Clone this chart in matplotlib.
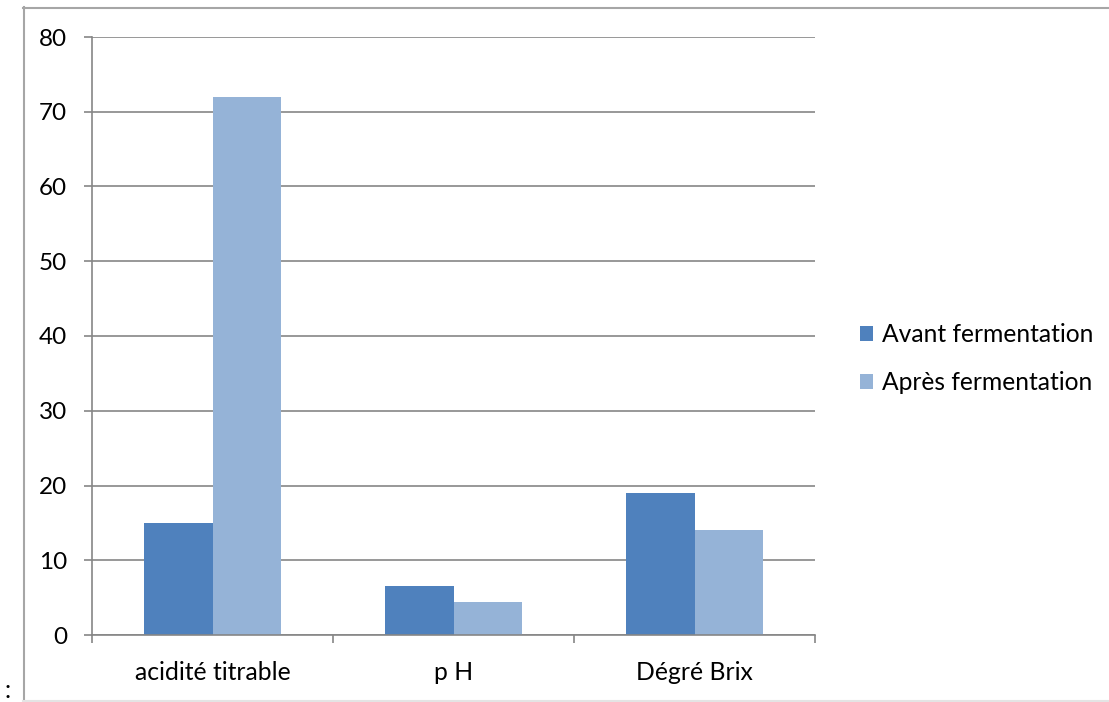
import numpy as np
import matplotlib
matplotlib.use('Agg')
import matplotlib.pyplot as plt
from matplotlib.lines import Line2D

categories = ['acidité titrable', 'p H', 'Dégré Brix']
avant = [15, 6.6, 19]
apres = [72, 4.4, 14]
series_names = ['Avant fermentation', 'Après fermentation']
colors = ['#4F81BD', '#95B3D7']

plt.rcParams['font.family'] = ['Lato', 'DejaVu Sans']

W, H = 1109, 702
fig = plt.figure(figsize=(W / 100, H / 100), dpi=100)
ax = fig.add_axes([92 / W, 1 - 635 / H, (815 - 92) / W, (635 - 37) / H])

# cadre du graphique (haut, gauche, bas)
fx = lambda p: p / W
fy = lambda p: 1 - p / H
fig.lines.append(Line2D([fx(23), 1], [fy(7.5), fy(7.5)], transform=fig.transFigure, color='#a6a6a6', lw=1.5))
fig.lines.append(Line2D([fx(23.5), fx(23.5)], [fy(7), fy(701)], transform=fig.transFigure, color='#a6a6a6', lw=1.5))
fig.lines.append(Line2D([fx(23), 1], [fy(700.5), fy(700.5)], transform=fig.transFigure, color='#e4e4e4', lw=1.5))
fig.text(fx(5), fy(691), ':', fontsize=18, ha='left', va='center')

x = np.arange(len(categories))
w = 1 / 3.5
ax.bar(x - w / 2, avant, w, color=colors[0], label=series_names[0], zorder=3)
ax.bar(x + w / 2, apres, w, color=colors[1], label=series_names[1], zorder=3)

ax.set_xlim(-0.5, len(categories) - 0.5)
ax.set_ylim(0, 80)
ax.set_yticks(range(0, 81, 10))
ax.set_xticks(x)
ax.set_xticklabels(categories)
ax.set_xticks(np.arange(-0.5, len(categories)), minor=True)
ax.tick_params(axis='x', which='major', length=0, pad=19, labelsize=17.8)
ax.tick_params(axis='x', which='minor', length=6, color='#868686', width=1.2)
ax.tick_params(axis='y', length=6, color='#868686', width=1.2, pad=12, labelsize=17.5)

ax.grid(axis='y', color='#868686', linewidth=1.2, zorder=0)
for s in ['top', 'right']:
    ax.spines[s].set_visible(False)
for s in ['left', 'bottom']:
    ax.spines[s].set_color('#868686')
    ax.spines[s].set_linewidth(1.2)
ax.spines['bottom'].set_zorder(4)

ax.legend(loc='center left', bbox_to_anchor=(1.031, 0.462), frameon=False,
          fontsize=17.7, handlelength=0.55, handleheight=0.55, handletextpad=0.35,
          labelspacing=1.0, borderpad=0.4)

fig.savefig('out.png', dpi=100)
